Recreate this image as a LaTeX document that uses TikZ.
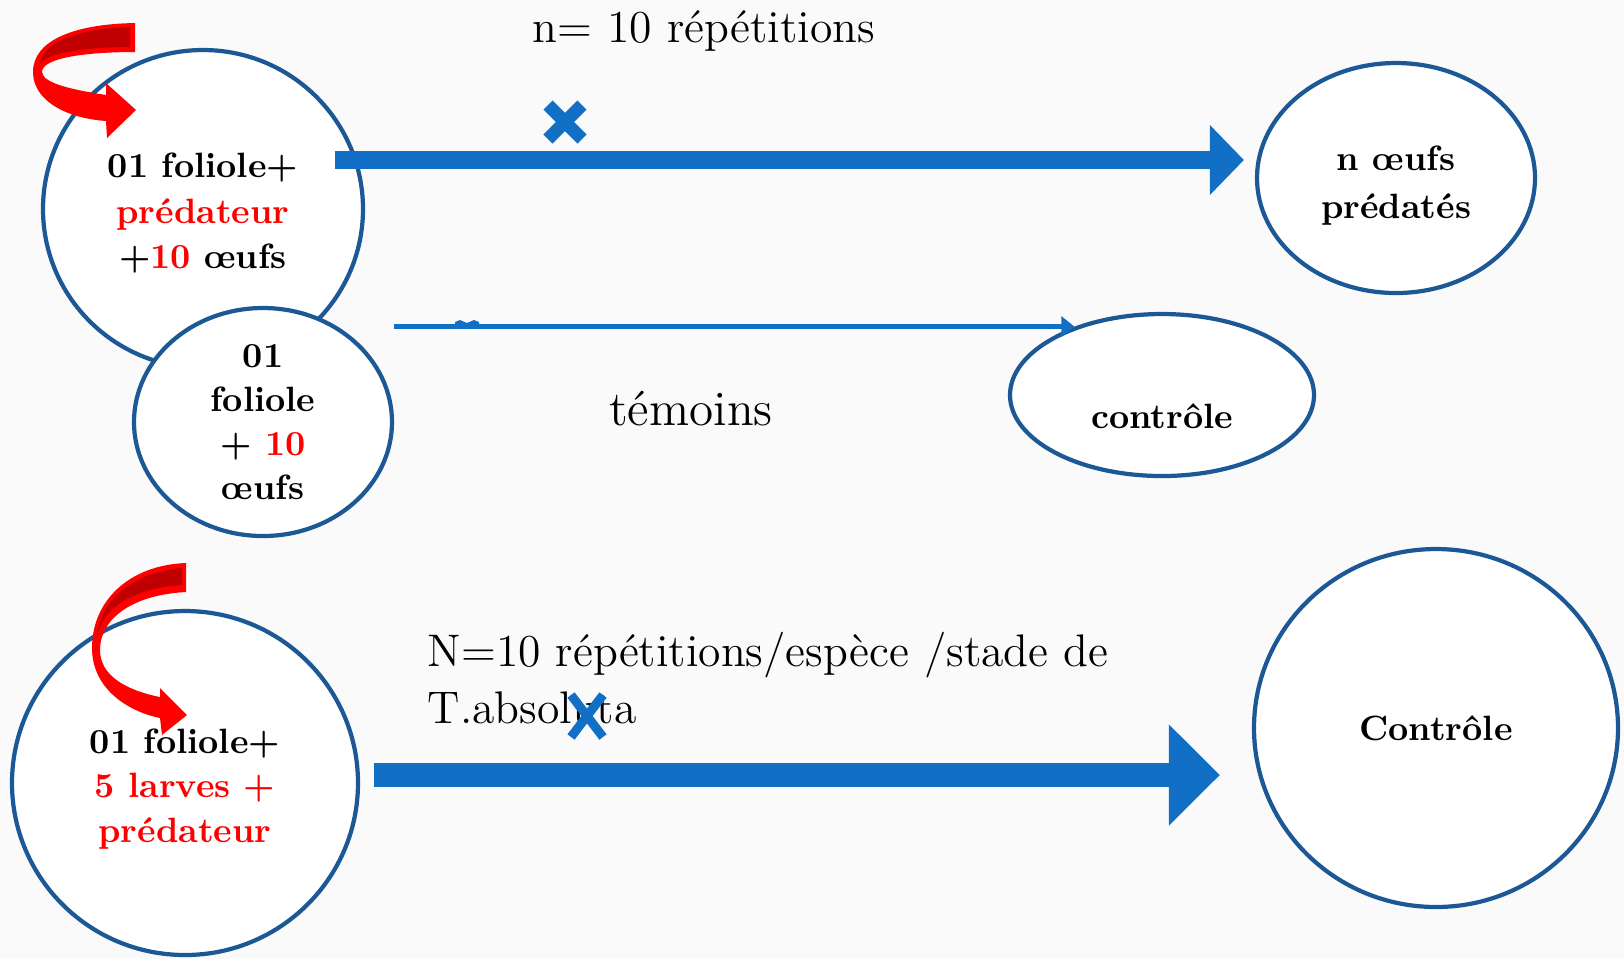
\documentclass[tikz,border=0pt]{standalone}
\usepackage{tikz}
\usetikzlibrary{shapes.geometric, arrows.meta, calc}
\definecolor{bleuFleche}{HTML}{1170C6}
\definecolor{bleuBord}{HTML}{1D5896}
\definecolor{rougeVif}{HTML}{FF0000}
\definecolor{rougeSombre}{HTML}{C00000}
\definecolor{fondGris}{HTML}{FAFAFA}

\begin{document}
\begin{tikzpicture}[
        x=0.1mm, y=-0.1mm,
        bulle/.style={ellipse, draw=bleuBord, fill=white, line width=1.2pt, inner sep=0pt},
        gras/.style={font=\bfseries\fontsize{10}{13}\selectfont, align=center, inner sep=0pt},
        legende/.style={font=\fontsize{13}{16.2}\selectfont, inner sep=0pt},
        grosse/.style={bleuFleche, line width=1.8mm, -{Triangle[length=3.4mm, width=6.8mm]}},
        tresgrosse/.style={bleuFleche, line width=2.4mm, -{Triangle[length=5.1mm, width=9.8mm]}},
        fine/.style={bleuFleche, line width=0.5mm, -{Triangle[length=1.3mm, width=2mm]}},
        croix/.style={bleuFleche, line width=1.3mm},
        tourne/.style={fill=rougeVif},
        ombre/.style={fill=rougeSombre}
    ]
    \fill[fondGris] (0,0) rectangle (1624,959);
    \useasboundingbox (0,0) rectangle (1624,959);

    % cercles
    \node[bulle, minimum width=32mm, minimum height=31.8mm] (oeufs) at (203,209) {};
    \node[bulle, minimum width=25.8mm, minimum height=22.8mm] (temoin) at (263,422) {};
    \node[bulle, minimum width=27.8mm, minimum height=23mm] (predates) at (1396,178) {};
    \node[bulle, minimum width=30.4mm, minimum height=16.2mm] (controle) at (1162,395) {};
    \node[bulle, minimum width=34.6mm, minimum height=34.4mm] (larves) at (185,783) {};
    \node[bulle, minimum width=36.4mm, minimum height=35.8mm] (controleB) at (1436,728) {};

    % fleches rouges
    \fill[tourne] (135,23) .. controls (75,24) and (33,40) .. (33,72)
        .. controls (33,100) and (65,118) .. (106,121) -- (107,138) -- (136,110) -- (106,83) -- (106,95)
        .. controls (75,90) and (43,84) .. (42,72) .. controls (42,58) and (85,52) .. (135,52) -- cycle;
    \fill[ombre] (130,27) .. controls (80,28) and (42,42) .. (40,64)
        .. controls (45,53) and (85,47) .. (130,47) -- cycle;
    \fill[tourne] (186,563) .. controls (130,565) and (92,600) .. (92,648)
        .. controls (92,690) and (130,712) .. (160,718) -- (162,735) -- (187,715) -- (160,688) -- (160,697)
        .. controls (125,690) and (100,675) .. (100,650) .. controls (100,620) and (130,595) .. (186,592) -- cycle;
    \fill[ombre] (182,568) .. controls (135,572) and (100,598) .. (97,637)
        .. controls (102,610) and (130,588) .. (182,585) -- cycle;

    % textes
    \node[gras] (t1) at (203,213) {01 foliole+\\\textcolor{rougeVif}{prédateur}\\+\textcolor{rougeVif}{10} œufs};
    \node[gras, font=\bfseries\fontsize{10}{12.5}\selectfont] (t2) at (temoin) {01\\foliole\\+ \textcolor{rougeVif}{10}\\œufs};
    \node[gras, font=\bfseries\fontsize{10}{13.7}\selectfont] (t3) at (1396,186) {n œufs\\prédatés};
    \node[gras] (t4) at (1162,416) {contrôle};
    \node[gras, font=\bfseries\fontsize{10}{12.7}\selectfont] (t5) at (185,789) {01 foliole+\\\textcolor{rougeVif}{5 larves +}\\\textcolor{rougeVif}{prédateur}};
    \node[gras] (t6) at (controleB) {Contrôle};
    \node[legende] (rep) at (704,31) {n= 10 répétitions};
    \node[legende, font=\fontsize{14}{16.2}\selectfont] (tem) at (691,409) {témoins};
    \node[legende, align=left, anchor=west] (repB) at (427,678) {N=10 répétitions/espèce /stade de\\T.absoluta};

    % fleches bleues
    \draw[grosse] ($(oeufs.center)+(132,-49)$) -- ($(predates.west)+(-11,-18)$);
    \draw[fine] (temoin.east |- controle.142) -- (controle.142);
    \fill[bleuFleche] (455,322) -- (460,320) -- (467,323) -- (474,320) -- (479,322) -- (479,328) -- (455,328) -- cycle;
    \draw[tresgrosse] ($(larves.east)+(14,-8)$) -- ($(controleB.west |- larves.east)+(-32,-8)$);

    % croix
    \draw[croix] (548,105) -- (582,139);
    \draw[croix] (548,139) -- (582,105);
    \draw[croix, line width=0.9mm] (571,695) -- (603,737);
    \draw[croix, line width=0.9mm] (571,737) -- (603,695);
\end{tikzpicture}
\end{document}
